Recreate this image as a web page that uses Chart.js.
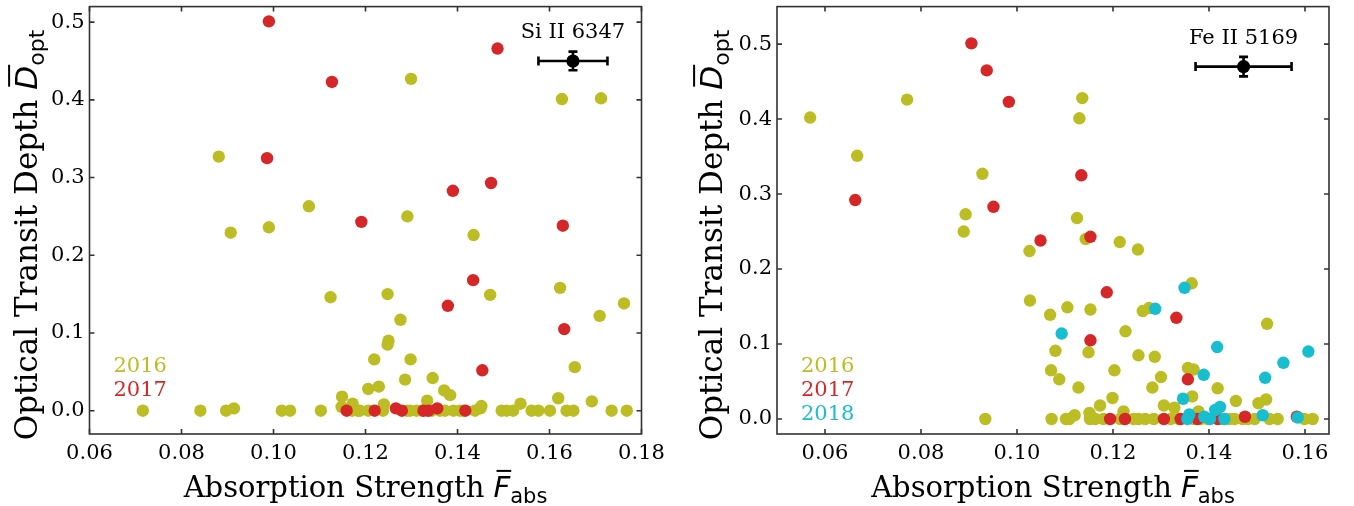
<!DOCTYPE html>
<html lang="en">
<head>
  <meta charset="UTF-8">
  <title>Optical transit depth vs absorption strength</title>
  <script src="https://cdn.jsdelivr.net/npm/chart.js"></script>
  <style>
    html, body { margin: 0; padding: 0; background: #fff; }
    .panel { position: absolute; top: 0; width: 677px; height: 506px; }
    #left { left: 0; }
    #right { left: 677px; }
  </style>
</head>
<body>
  <div class="panel" id="left"><canvas id="siChart" width="677" height="506"></canvas></div>
  <div class="panel" id="right"><canvas id="feChart" width="677" height="506"></canvas></div>

  <script>
    // ---- Si II 6347 panel: [absorption strength, transit depth]
    const si2016 = [
      [0.0716, 0], [0.0841, 0], [0.0897, 0], [0.0914, 0.003], [0.1018, 0], [0.1036, 0], [0.1103, 0],
      [0.1149, 0.018], [0.1148, 0.005], [0.1172, 0.009], [0.1183, 0], [0.1171, 0],
      [0.0881, 0.327], [0.0907, 0.229], [0.0990, 0.236], [0.1077, 0.263], [0.1124, 0.146],
      [0.1299, 0.427], [0.1627, 0.401], [0.1712, 0.402],
      [0.1291, 0.250], [0.1435, 0.226], [0.1248, 0.150], [0.1471, 0.149], [0.1623, 0.158], [0.1762, 0.138],
      [0.1276, 0.117], [0.1709, 0.122], [0.1250, 0.090], [0.1248, 0.085], [0.1219, 0.066], [0.1298, 0.066],
      [0.1655, 0.056], [0.1286, 0.040], [0.1346, 0.042], [0.1206, 0.028], [0.1229, 0.031], [0.1371, 0.026],
      [0.1384, 0.020], [0.1240, 0.008], [0.1334, 0.013], [0.1537, 0.009], [0.1619, 0.016], [0.1692, 0.012],
      [0.1452, 0.006], [0.1450, 0.003],
      [0.1188, 0], [0.1206, 0], [0.1238, 0], [0.1290, 0], [0.1297, 0], [0.1311, 0], [0.1322, 0], [0.1333, 0],
      [0.1344, 0], [0.1362, 0], [0.1373, 0], [0.1391, 0], [0.1405, 0], [0.1412, 0], [0.1438, 0], [0.1496, 0],
      [0.1507, 0], [0.1521, 0], [0.1561, 0], [0.1576, 0], [0.1601, 0], [0.1637, 0], [0.1652, 0], [0.1735, 0],
      [0.1768, 0]
    ];
    const si2017 = [
      [0.0990, 0.501], [0.1127, 0.423], [0.0986, 0.325], [0.1487, 0.466], [0.1390, 0.283], [0.1473, 0.293],
      [0.1191, 0.243], [0.1629, 0.238], [0.1434, 0.168], [0.1379, 0.135], [0.1632, 0.105], [0.1454, 0.052],
      [0.1159, 0], [0.1220, 0], [0.1266, 0.003], [0.1279, 0], [0.1326, 0], [0.1337, 0], [0.1356, 0.003], [0.1417, 0]
    ];
    const siRef = [0.1651, 0.450];
    const siRefErr = [0.0075, 0.012];
    const siXRange = [0.06, 0.18];
    const siYRange = [-0.03, 0.52];
    const siXTicks = [0.06, 0.08, 0.10, 0.12, 0.14, 0.16, 0.18];

    // ---- Fe II 5169 panel
    const fe2016 = [
      [0.0569, 0.402], [0.0667, 0.351], [0.0771, 0.426], [0.0928, 0.327], [0.0893, 0.273], [0.0889, 0.250],
      [0.1026, 0.224], [0.1027, 0.158], [0.0934, 0], [0.1136, 0.428], [0.1130, 0.401], [0.1125, 0.268],
      [0.1143, 0.240], [0.1214, 0.236], [0.1252, 0.226], [0.1364, 0.181], [0.1069, 0.139], [0.1105, 0.149],
      [0.1153, 0.146], [0.1262, 0.144], [0.1275, 0.148], [0.1226, 0.117], [0.1521, 0.127], [0.1080, 0.091],
      [0.1149, 0.089], [0.1253, 0.085], [0.1287, 0.083], [0.1071, 0.065], [0.1203, 0.065], [0.1356, 0.068],
      [0.1368, 0.066], [0.1088, 0.053], [0.1300, 0.056], [0.1128, 0.042], [0.1282, 0.042], [0.1418, 0.041],
      [0.1365, 0.030], [0.1199, 0.028], [0.1173, 0.018], [0.1306, 0.018], [0.1328, 0.015], [0.1456, 0.024],
      [0.1503, 0.021], [0.1519, 0.026], [0.1151, 0.008], [0.1222, 0.010], [0.1120, 0.005], [0.1378, 0.010],
      [0.1072, 0], [0.1102, 0], [0.1109, 0], [0.1152, 0], [0.1163, 0], [0.1180, 0], [0.1215, 0], [0.1243, 0],
      [0.1253, 0], [0.1267, 0], [0.1285, 0], [0.1320, 0], [0.1337, 0], [0.1368, 0], [0.1383, 0], [0.1397, 0],
      [0.1425, 0], [0.1442, 0], [0.1453, 0], [0.1470, 0], [0.1481, 0], [0.1495, 0], [0.1526, 0], [0.1543, 0],
      [0.1599, 0], [0.1616, 0]
    ];
    const fe2017 = [
      [0.0905, 0.501], [0.0937, 0.465], [0.0983, 0.423], [0.0663, 0.292], [0.0951, 0.283], [0.1049, 0.238],
      [0.1134, 0.325], [0.1153, 0.243], [0.1187, 0.169], [0.1332, 0.135], [0.1153, 0.105], [0.1356, 0.053],
      [0.1194, 0], [0.1225, 0], [0.1306, 0], [0.1341, 0], [0.1376, 0], [0.1418, 0], [0.1475, 0.003], [0.1583, 0.003]
    ];
    const fe2018 = [
      [0.1349, 0.175], [0.1288, 0.147], [0.1093, 0.114], [0.1417, 0.096], [0.1607, 0.090], [0.1555, 0.075],
      [0.1389, 0.059], [0.1517, 0.055], [0.1346, 0.027], [0.1423, 0.016], [0.1413, 0.012], [0.1512, 0.005],
      [0.1359, 0.006], [0.1355, 0], [0.1390, 0.003], [0.1402, 0], [0.1432, 0], [0.1585, 0.002]
    ];
    const feRef = [0.1472, 0.470];
    const feRefErr = [0.0100, 0.013];
    const feXRange = [0.05, 0.165];
    const feYRange = [-0.02, 0.55];
    const feXTicks = [0.06, 0.08, 0.10, 0.12, 0.14, 0.16];

    const yTicks = [0.0, 0.1, 0.2, 0.3, 0.4, 0.5];
    const yearColors = { "2016": "#bcbd22", "2017": "#d62728", "2018": "#17becf" };

    const SERIF = '"DejaVu Serif", "Liberation Serif", serif';
    const SANS = '"DejaVu Sans", sans-serif';
    const SPINE = "#333";

    function toPoints(arr) {
      return arr.map(p => ({ x: p[0], y: p[1] }));
    }

    // label like "Absorption Strength F̄_abs" with the math part in sans italic
    function drawMathLabel(ctx, x, y, rotate, size, word, sym, sub) {
      ctx.save();
      ctx.translate(x, y);
      if (rotate) ctx.rotate(-Math.PI / 2);
      ctx.fillStyle = "#000";
      ctx.strokeStyle = "#000";
      ctx.textBaseline = "alphabetic";
      ctx.textAlign = "left";
      const wordFont = size + "px " + SERIF;
      const symFont = "italic " + size + "px " + SANS;
      const subFont = Math.round(size * 0.71) + "px " + SANS;
      ctx.font = wordFont; const w1 = ctx.measureText(word).width;
      ctx.font = symFont; const w2 = ctx.measureText(sym).width;
      ctx.font = subFont; const w3 = ctx.measureText(sub).width;
      let cx = -(w1 + w2 + w3) / 2;
      ctx.font = wordFont; ctx.fillText(word, cx, 0); cx += w1;
      ctx.font = symFont; ctx.fillText(sym, cx, 0);
      const over = -size * 0.9;
      ctx.lineWidth = 2;
      ctx.beginPath();
      ctx.moveTo(cx + 3, over);
      ctx.lineTo(cx + w2 + 1, over);
      ctx.stroke();
      cx += w2;
      ctx.font = subFont; ctx.fillText(sub, cx, size * 0.22);
      ctx.restore();
    }

    const panelPlugin = {
      id: "panel",
      afterDraw(chart, args, opts) {
        const ctx = chart.ctx;
        const a = chart.chartArea;
        const xs = chart.scales.x, ys = chart.scales.y;
        ctx.save();

        // frame with inward ticks on all four sides
        ctx.strokeStyle = SPINE;
        ctx.lineWidth = 1.6;
        ctx.strokeRect(a.left, a.top, a.right - a.left, a.bottom - a.top);
        ctx.beginPath();
        opts.xTicks.forEach(v => {
          const px = xs.getPixelForValue(v);
          ctx.moveTo(px, a.bottom); ctx.lineTo(px, a.bottom - 5);
          ctx.moveTo(px, a.top); ctx.lineTo(px, a.top + 5);
        });
        yTicks.forEach(v => {
          const py = ys.getPixelForValue(v);
          ctx.moveTo(a.left, py); ctx.lineTo(a.left + 5, py);
          ctx.moveTo(a.right, py); ctx.lineTo(a.right - 5, py);
        });
        ctx.stroke();

        // reference error bar
        const rx = xs.getPixelForValue(opts.ref[0]);
        const ry = ys.getPixelForValue(opts.ref[1]);
        const x0 = xs.getPixelForValue(opts.ref[0] - opts.err[0]);
        const x1 = xs.getPixelForValue(opts.ref[0] + opts.err[0]);
        const y0 = ys.getPixelForValue(opts.ref[1] - opts.err[1]);
        const y1 = ys.getPixelForValue(opts.ref[1] + opts.err[1]);
        ctx.strokeStyle = "#000";
        ctx.lineWidth = 2.6;
        ctx.beginPath();
        ctx.moveTo(x0, ry); ctx.lineTo(x1, ry);
        ctx.moveTo(x0, ry - 4.5); ctx.lineTo(x0, ry + 4.5);
        ctx.moveTo(x1, ry - 4.5); ctx.lineTo(x1, ry + 4.5);
        ctx.moveTo(rx, y0); ctx.lineTo(rx, y1);
        ctx.moveTo(rx - 4.5, y0); ctx.lineTo(rx + 4.5, y0);
        ctx.moveTo(rx - 4.5, y1); ctx.lineTo(rx + 4.5, y1);
        ctx.stroke();

        // line name above the reference point
        ctx.fillStyle = "#000";
        ctx.font = "21px " + SERIF;
        ctx.textAlign = "center";
        ctx.textBaseline = "alphabetic";
        ctx.fillText(opts.line, rx, ry - 22.5);

        // year labels
        ctx.textAlign = "left";
        opts.years.forEach((yr, i) => {
          ctx.fillStyle = yearColors[yr];
          ctx.fillText(yr, a.left + 24, 372 + i * 24);
        });
        ctx.restore();

        // axis titles
        drawMathLabel(ctx, (a.left + a.right) / 2, 497, false, 29, "Absorption Strength ", "F", "abs");
        drawMathLabel(ctx, opts.yTitleX, 235, true, 31, "Optical Transit Depth ", "D", "opt");
      }
    };

    function makeChart(canvasId, sets, ref, xRange, yRange, xTicks, padRight, yWidth, extra) {
      const datasets = sets.map((s, i) => ({
        label: s.year,
        data: toPoints(s.data),
        backgroundColor: yearColors[s.year],
        borderWidth: 0,
        pointRadius: 6.2,
        pointHoverRadius: 6.2,
        order: sets.length - i + 1
      }));
      datasets.push({
        label: "reference",
        data: [{ x: ref[0], y: ref[1] }],
        backgroundColor: "#000",
        borderWidth: 0,
        pointRadius: 6.6,
        order: 0
      });
      return new Chart(document.getElementById(canvasId), {
        type: "scatter",
        data: { datasets },
        options: {
          responsive: false,
          animation: false,
          layout: { padding: { top: 5, right: padRight, left: 0, bottom: 0 } },
          plugins: {
            legend: { display: false },
            tooltip: { enabled: false },
            panel: extra
          },
          scales: {
            x: {
              type: "linear",
              min: xRange[0],
              max: xRange[1],
              afterBuildTicks: s => { s.ticks = xTicks.map(v => ({ value: v })); },
              afterFit: s => { s.height = 72; s.paddingLeft = 0; s.paddingRight = 0; },
              grid: { display: false, drawTicks: false },
              border: { display: false },
              ticks: {
                color: "#000",
                padding: 7,
                autoSkip: false,
                maxRotation: 0,
                font: { family: SERIF, size: 21 },
                callback: v => v.toFixed(2)
              }
            },
            y: {
              type: "linear",
              min: yRange[0],
              max: yRange[1],
              afterBuildTicks: s => { s.ticks = yTicks.map(v => ({ value: v })); },
              afterFit: s => { s.width = yWidth; s.paddingTop = 0; s.paddingBottom = 0; },
              grid: { display: false, drawTicks: false },
              border: { display: false },
              ticks: {
                color: "#000",
                padding: 5,
                font: { family: SERIF, size: 21 },
                callback: v => v.toFixed(1)
              }
            }
          }
        },
        plugins: [panelPlugin]
      });
    }

    makeChart("siChart",
      [{ year: "2016", data: si2016 }, { year: "2017", data: si2017 }],
      siRef, siXRange, siYRange, siXTicks, 35.5, 89.5,
      { ref: siRef, err: siRefErr, line: "Si II 6347", years: ["2016", "2017"], xTicks: siXTicks, yTitleX: 37 });

    makeChart("feChart",
      [{ year: "2016", data: fe2016 }, { year: "2017", data: fe2017 }, { year: "2018", data: fe2018 }],
      feRef, feXRange, feYRange, feXTicks, 25, 100,
      { ref: feRef, err: feRefErr, line: "Fe II 5169", years: ["2016", "2017", "2018"], xTicks: feXTicks, yTitleX: 45 });
  </script>
</body>
</html>
